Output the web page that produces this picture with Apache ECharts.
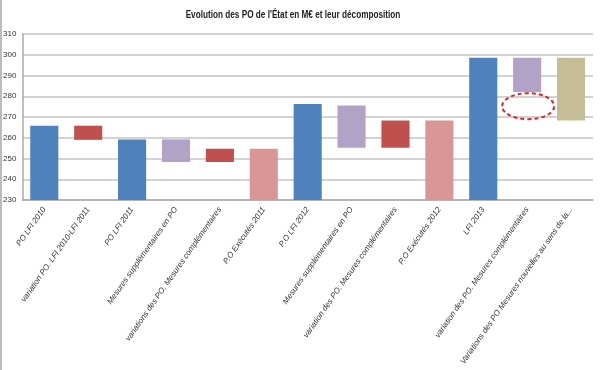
<!DOCTYPE html>
<html><head><meta charset="utf-8">
<script src="https://cdn.jsdelivr.net/npm/echarts@6/dist/echarts.min.js"></script>
<style>html,body{margin:0;padding:0;background:#fff}#c{width:600px;height:370px}</style>
</head><body><div id="c"></div>
<script>
var categories = [
  "PO LFI 2010",
  "variation PO. LFI 2010-LFI 2011",
  "PO LFI 2011",
  "Mesures supplémentaires en PO",
  "variations des PO. Mesures complémentaires",
  "P.O Exécutés 2011",
  "P.O LFI 2012",
  "Mesures supplémentaires en PO",
  "variation des PO. Mesures complémentaires",
  "P.O Exécutés 2012",
  "LFI 2013",
  "variation des PO. Mesures complémentaires",
  "Variations des PO Mesures nouvelles au sens de la..."
];
var lows  = [0, 259, 0, 248.3, 248.3, 0, 0, 255.2, 255.2, 0, 0, 282.1, 268.3];
var highs = [265.8, 265.8, 259.2, 259.2, 254.7, 254.7, 276.3, 275.6, 268.3, 268.3, 298.6, 298.6, 298.6];
var yTicks = [230, 240, 250, 260, 270, 280, 290, 300, 310];
var highlightCategory = 11;
var highlightValue = 275.2;
var titleText = "Evolution des PO de l'État en M€ et leur décomposition";

var palette = ["#4F81BD","#C0504D","#4F81BD","#B3A2C7","#C0504D","#D99694","#4F81BD","#B3A2C7","#C0504D","#D99694","#4F81BD","#B3A2C7","#C4BD97"];

var chart = echarts.init(document.getElementById('c'), null, {renderer:'canvas'});
var option = {
  animation: false,
  grid: {left: 21, right: 7, top: 34, bottom: 170, containLabel: false},
  xAxis: {
    type: 'category', data: categories,
    axisLine: {lineStyle: {color: '#AAAAAA', width: 1.5}},
    axisTick: {show: false},
    axisLabel: {interval: 0, rotate: 55, fontSize: 8, fontStyle: 'italic', color: '#333', margin: 8,
      fontFamily: 'Liberation Sans'}
  },
  yAxis: {
    type: 'value', min: yTicks[0], max: yTicks[yTicks.length-1], interval: 10,
    axisLine: {show: true, lineStyle: {color: '#AAAAAA', width: 1.5}},
    axisTick: {show: false},
    axisLabel: {fontSize: 8, color: '#333', margin: 6, fontFamily: 'Liberation Sans'},
    splitLine: {lineStyle: {color: '#C4C4C4', width: 1.5}}
  },
  series: [
    {type: 'bar', stack: 'w', data: lows, itemStyle: {color: 'transparent'}, barWidth: '64%', silent: true},
    {type: 'bar', stack: 'w', barWidth: '64%',
      data: highs.map(function(h, i){ return {value: h - lows[i], itemStyle: {color: palette[i]}}; })}
  ]
};
chart.setOption(option);
var p = chart.convertToPixel({xAxisIndex:0, yAxisIndex:0}, [highlightCategory, highlightValue]);
chart.setOption({graphic: [
  {type: 'text', x: 293, y: 15, scaleX: 0.82,
   style: {text: titleText, fontFamily: 'Liberation Sans', fontSize: 10, fontWeight: 'bold', fill: '#222',
           align: 'center', verticalAlign: 'middle'}},
  {type: 'ellipse', shape: {cx: p[0] + 1, cy: p[1], rx: 26, ry: 13},
   style: {fill: 'none', stroke: '#E02020', lineWidth: 2, lineDash: [4, 3]}},
  {type: 'line', shape: {x1: 1, y1: 0, x2: 1, y2: 370}, style: {stroke: '#BBBBBB', lineWidth: 2}}
]});
</script></body></html>
